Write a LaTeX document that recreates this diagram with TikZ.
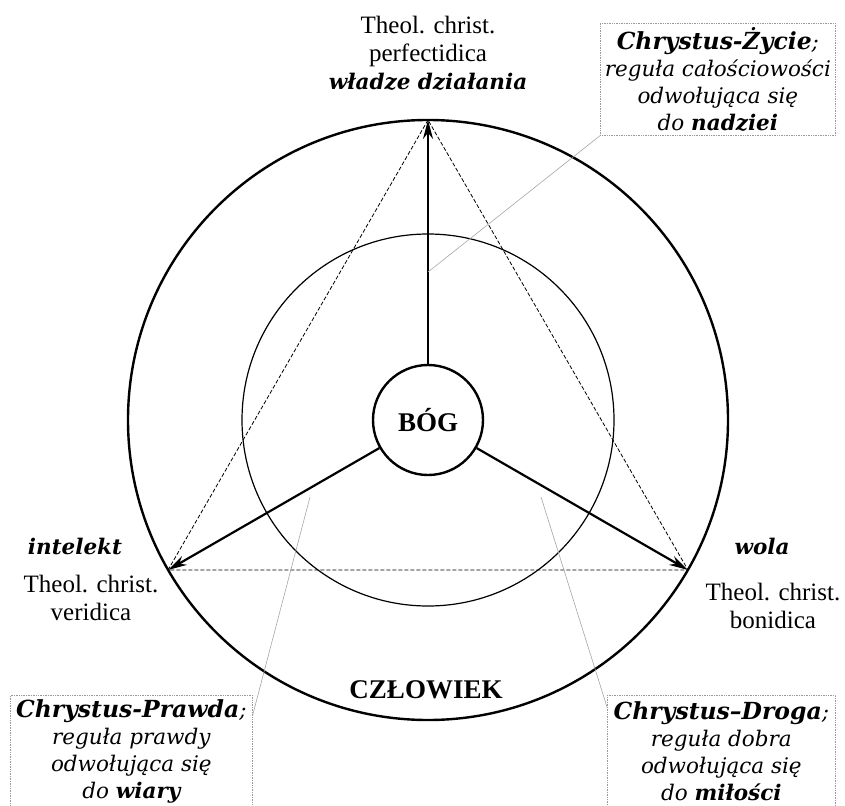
\documentclass[tikz,border=0pt]{standalone}
\usepackage{fontspec}
\setmainfont{Liberation Serif}
\newfontfamily\georgia{DejaVu Serif}
\usetikzlibrary{
  positioning,
  arrows.meta
}
\newcommand\rulehead[1]{{\bfseries\fontsize{23.5}{27}\selectfont #1}}
\tikzset{
  >={Stealth[length=19pt,width=10pt]},
  arrow/.style={->, line width=2.2pt},
  ring/.style={draw, circle, line width=2.4pt},
  tri/.style={line width=0.8pt, dash pattern=on 4pt off 2pt},
  leader/.style={draw=gray!70, line width=0.6pt},
  rulebox/.style={draw=gray!80, densely dotted, line width=0.7pt, align=center,
    inner sep=0pt, font=\georgia\itshape\fontsize{21.5}{27}\selectfont},
  power/.style={inner sep=0pt, font=\georgia\bfseries\itshape\fontsize{21.5}{24}\selectfont},
  theol/.style={align=center, inner sep=0pt, font=\fontsize{25}{28}\selectfont},
  big/.style={font=\bfseries\fontsize{27}{30}\selectfont}
}

\begin{document}
\begin{tikzpicture}[x=1pt, y=-1pt]
    \useasboundingbox (0,0) rectangle (845,805);

    \coordinate (c) at (428,420);
    \draw[line width=2.4pt] (c) circle[radius=300pt];
    \draw[line width=1.2pt] (c) circle[radius=186pt];

    \coordinate (apex) at (428,120);
    \coordinate (lcorner) at (168,570);
    \coordinate (rcorner) at (688,570);
    \draw[tri] (apex) -- (lcorner) -- (rcorner) -- cycle;

    \node[ring, minimum size=110pt, big] (bog) at (c) {BÓG};
    \draw[arrow] (bog) -- (apex);
    \draw[arrow] (bog) -- (lcorner);
    \draw[arrow] (bog) -- (rcorner);

    % nazwy wladz i teologii
    \node[power] (dzial) at (428,82) {władze działania};
    \node[theol, above=6pt of dzial] (perf) {Theol. christ.\\perfectidica};
    \node[power] (intel) at (75,546) {intelekt};
    \node[theol] (veri) at (91,598) {Theol. christ.\\veridica};
    \node[power] (wola) at (762,546) {wola};
    \node[theol] (boni) at (773,606) {Theol. christ.\\bonidica};
    \node[big] (czl) at (426,690) {CZŁOWIEK};

    % reguly
    \node[rulebox, anchor=north west, minimum width=235pt, minimum height=112pt] (zycie) at (600,23)
      {\rulehead{Chrystus-Życie};\\reguła całościowości\\odwołująca się\\do \textbf{nadziei}};
    \node[rulebox, anchor=north west, minimum width=242pt, minimum height=112pt] (prawda) at (10,695)
      {\rulehead{Chrystus-Prawda};\\reguła prawdy\\odwołująca się\\do \textbf{wiary}};
    \node[rulebox, anchor=north west, minimum width=228pt, minimum height=112pt] (droga) at (607,695)
      {\rulehead{Chrystus–Droga};\\reguła dobra\\odwołująca się\\do \textbf{miłości}};

    \coordinate (lz) at (428,272);
    \coordinate (lp) at (310,497);
    \coordinate (ld) at (541,497);
    \draw[leader] (lz) -- (zycie.south west);
    \draw[leader] (lp) -- ([yshift=-20pt]prawda.north east);
    \draw[leader] (ld) -- ([yshift=-12pt]droga.north west);
\end{tikzpicture}
\end{document}
